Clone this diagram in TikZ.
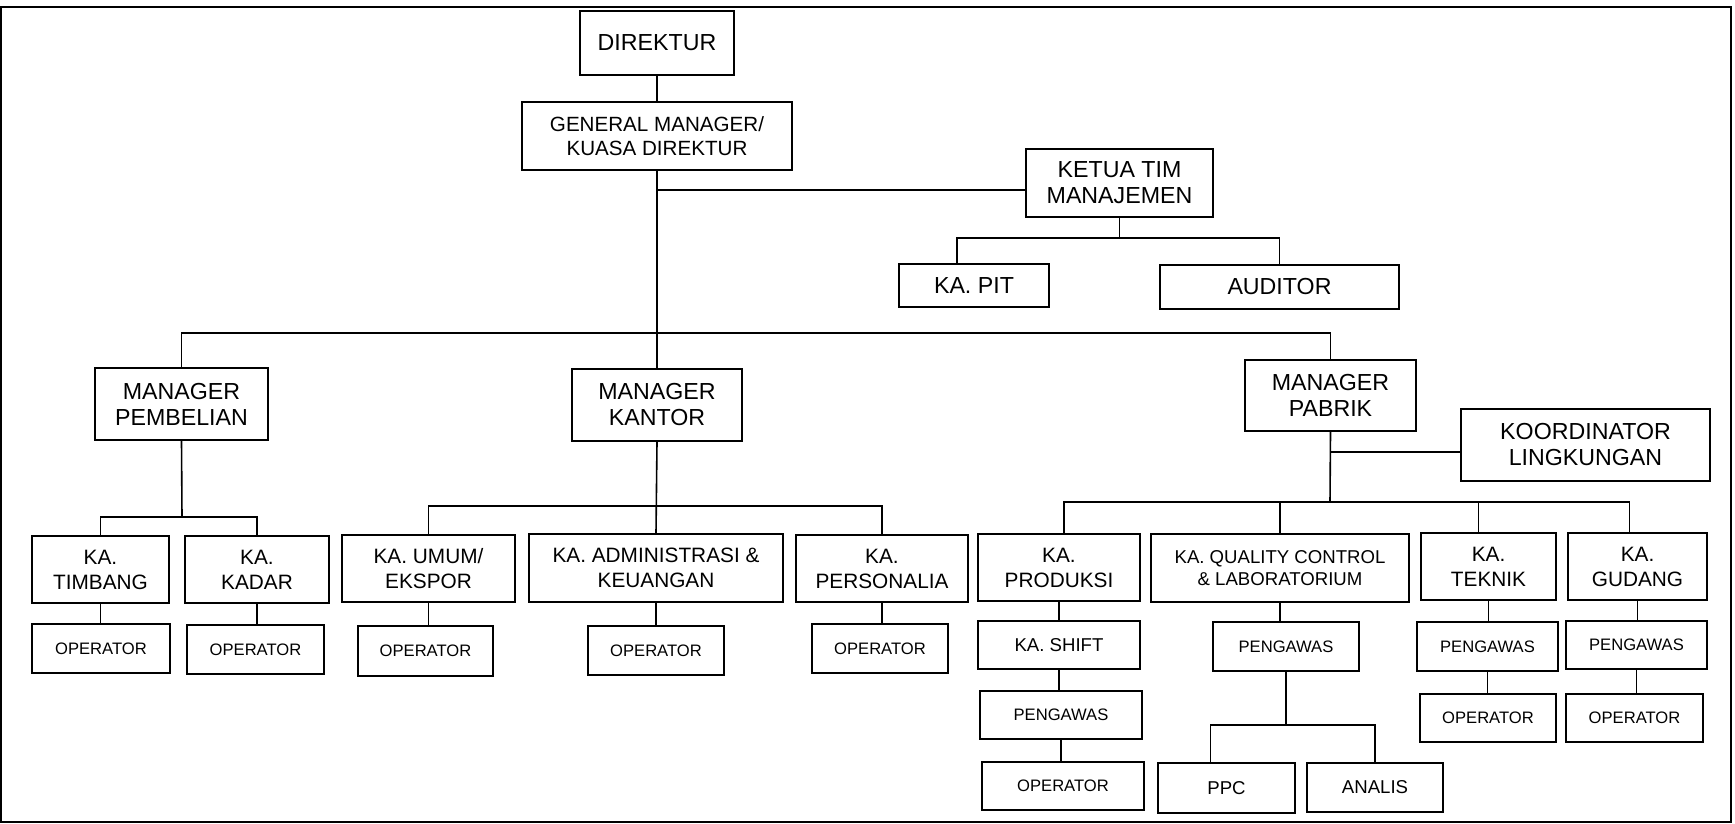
\documentclass[tikz,border=0pt]{standalone}
\usepackage{fontspec}
\setmainfont{Liberation Sans}
\begin{document}
\begin{tikzpicture}[x=0.5pt,y=-0.5pt,
  box/.style={draw, line width=0.9pt, align=center, inner sep=1pt},
  boxsize/.style 2 args={minimum width=#1*0.5pt, minimum height=#2*0.5pt},
  lvone/.style={box, font=\fontsize{11.6}{13}\selectfont},
  lvgm/.style={box, font=\fontsize{10.3}{12}\selectfont},
  lvtwo/.style={box, font=\fontsize{10.4}{12.5}\selectfont},
  lvthree/.style={box, font=\fontsize{9.3}{10.6}\selectfont},
  lvfour/.style={box, font=\fontsize{8.3}{10}\selectfont},
  link/.style={line width=0.8pt}]
  \useasboundingbox (0,0) rectangle (1735,824);
  \draw[line width=1pt] (1,7) rectangle (1731,822);

  % top
  \node[lvone, boxsize={154}{64}] (dir) at (657,43) {DIREKTUR};
  \node[lvgm, boxsize={270}{68}] (gm) at (657,136) {GENERAL MANAGER/\\KUASA DIREKTUR};
  \node[lvone, boxsize={187}{68}] (ketua) at (1119.5,183) {KETUA TIM\\MANAJEMEN};
  \node[lvone, boxsize={150}{43}] (pit) at (974,285.5) {KA. PIT};
  \node[lvone, boxsize={239}{44}] (auditor) at (1279.5,287) {AUDITOR};

  % managers
  \node[lvone, boxsize={173}{72}] (pembelian) at (181.5,404) {MANAGER\\PEMBELIAN};
  \node[lvone, boxsize={170}{72}] (kantor) at (657,405) {MANAGER\\KANTOR};
  \node[lvone, boxsize={171}{71}] (pabrik) at (1330.5,395.5) {MANAGER\\PABRIK};
  \node[lvone, boxsize={249}{72}] (koord) at (1585.5,445) {KOORDINATOR\\LINGKUNGAN};

  % kepala bagian
  \node[lvtwo, boxsize={137}{67}] (timbang) at (100.5,569.5) {KA.\\TIMBANG};
  \node[lvtwo, boxsize={144}{67}] (kadar) at (257,569.5) {KA.\\KADAR};
  \node[lvtwo, boxsize={173}{67}] (umum) at (428.5,568.5) {KA. UMUM/\\EKSPOR};
  \node[lvtwo, boxsize={254}{68}] (admin) at (656,568) {KA. ADMINISTRASI \&\\KEUANGAN};
  \node[lvtwo, boxsize={172}{67}] (personalia) at (882,568.5) {KA.\\PERSONALIA};
  \node[lvtwo, boxsize={162}{67}] (produksi) at (1059,567.5) {KA.\\PRODUKSI};
  \node[lvthree, boxsize={258}{68}] (qc) at (1280,568) {KA. QUALITY CONTROL\\\& LABORATORIUM};
  \node[lvtwo, boxsize={135}{67}] (teknik) at (1488.5,566.5) {KA.\\TEKNIK};
  \node[lvtwo, boxsize={139}{67}] (gudang) at (1637.5,566.5) {KA.\\GUDANG};

  % staf
  \node[lvfour, boxsize={138}{49}] (op1) at (101,648.5) {OPERATOR};
  \node[lvfour, boxsize={137}{49}] (op2) at (255.5,649.5) {OPERATOR};
  \node[lvfour, boxsize={135}{50}] (op3) at (425.5,651) {OPERATOR};
  \node[lvfour, boxsize={136}{49}] (op4) at (656,650.5) {OPERATOR};
  \node[lvfour, boxsize={136}{49}] (op5) at (880,648.5) {OPERATOR};
  \node[lvthree, boxsize={162}{48}] (shift) at (1059,645) {KA. SHIFT};
  \node[lvfour, boxsize={162}{48}] (peng1) at (1061,715) {PENGAWAS};
  \node[lvfour, boxsize={162}{48}] (op6) at (1063,786) {OPERATOR};
  \node[lvfour, boxsize={146}{49}] (peng2) at (1286,646.5) {PENGAWAS};
  \node[lvthree, boxsize={137}{50}] (ppc) at (1226.5,788) {PPC};
  \node[lvthree, boxsize={136}{49}] (analis) at (1375,787.5) {ANALIS};
  \node[lvfour, boxsize={141}{49}] (peng3) at (1487.5,646.5) {PENGAWAS};
  \node[lvfour, boxsize={136}{48}] (op7) at (1488,718) {OPERATOR};
  \node[lvfour, boxsize={141}{48}] (peng4) at (1636.5,645) {PENGAWAS};
  \node[lvfour, boxsize={137}{48}] (op8) at (1634.5,718) {OPERATOR};

  % garis
  \coordinate (mainbus) at (657,333);
  \coordinate (tbus) at (1121,238);
  \coordinate (bbus) at (182,517);
  \coordinate (kbus) at (657,506);
  \coordinate (pbus) at (1330,502);
  \coordinate (qbus) at (1286,725);

  \draw[link] (dir.south) -- (gm.north);
  \draw[link] (gm.south) -- (mainbus) -- (kantor.north);
  \draw[link] (pembelian.north) |- (mainbus) -| (pabrik.north);
  \draw[link] ([yshift=-3.5pt]ketua.west) -| (gm.south);
  \draw[link] (ketua.south) -- (ketua.south |- tbus);
  \draw[link] ([xshift=-8.5pt]pit.north) |- (tbus) -| (auditor.north);
  \draw[link] ([yshift=-3.5pt]koord.west) -| (pabrik.south);

  \draw[link] (pembelian.south) -- (bbus);
  \draw[link] (timbang.north) |- (bbus) -| (kadar.north);
  \draw[link] (kantor.south) -- (admin.north);
  \draw[link] (umum.north) |- (kbus) -| (personalia.north);
  \draw[link] (pabrik.south) -- (pbus);
  \draw[link] ([xshift=2.5pt]produksi.north) |- (pbus) -| ([xshift=-4pt]gudang.north);
  \draw[link] (qc.north) -- (qc.north |- pbus);
  \draw[link] ([xshift=-5pt]teknik.north) -- ([xshift=-5pt]teknik.north |- pbus);
  \draw[link] (peng2.south) -- (qbus);
  \draw[link] ([xshift=-8pt]ppc.north) |- (qbus) -| (analis.north);

  \foreach \a/\b in {timbang/op1, kadar/op2, umum/op3, admin/op4, personalia/op5,
      produksi/shift, shift/peng1, peng1/op6, qc/peng2, teknik/peng3, peng3/op7,
      gudang/peng4, peng4/op8}
    \draw[link] (\a.south) -- (\a.south |- \b.north);
\end{tikzpicture}
\end{document}
